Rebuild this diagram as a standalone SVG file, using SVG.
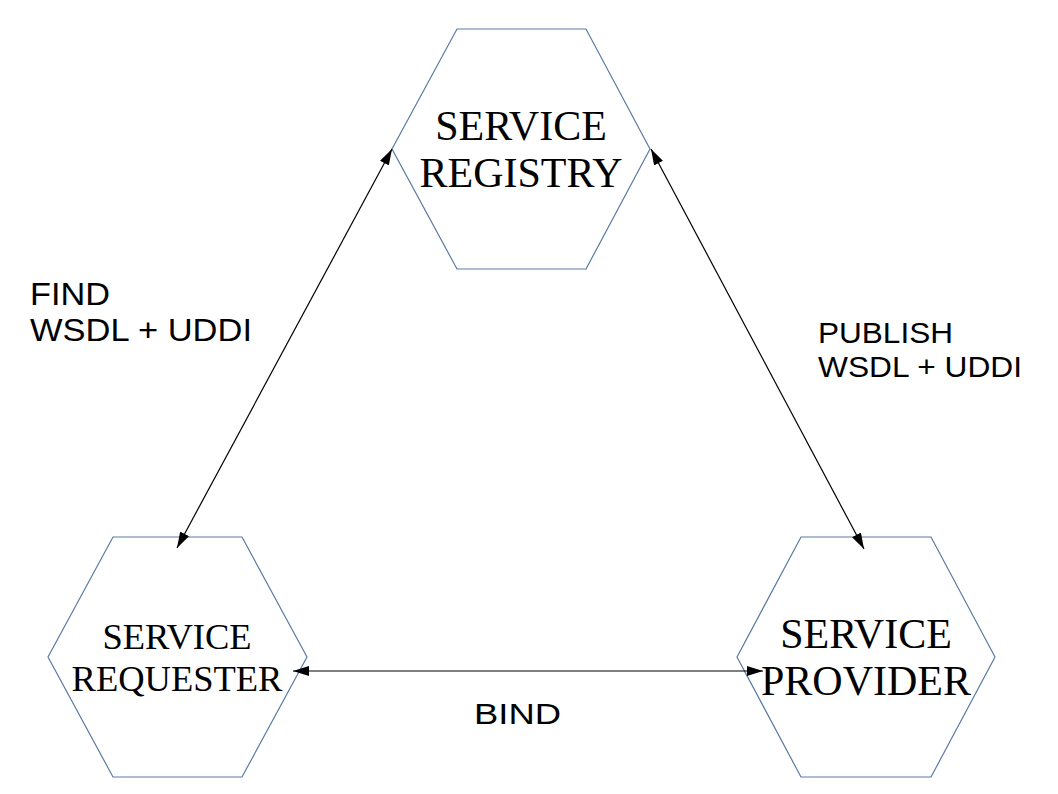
<svg xmlns="http://www.w3.org/2000/svg" width="1058" height="794" viewBox="0 0 1058 794">
<style>
.hex{fill:#fff;stroke:#5a7aa3;stroke-width:1.2}
.nt{font-family:"Liberation Serif","Times New Roman",serif;fill:#000;text-anchor:middle}
.lb{font-family:"Liberation Sans",Arial,sans-serif;fill:#000}
.cn{stroke:#000;stroke-width:1.2;fill:none;marker-start:url(#ah);marker-end:url(#ah)}
</style>
<defs>
<marker id="ah" viewBox="0 0 16 10" refX="16" refY="5" markerWidth="16" markerHeight="10" markerUnits="userSpaceOnUse" orient="auto-start-reverse">
<path d="M0,0 L16,5 L0,10 Z" fill="#000"/>
</marker>
</defs>
<rect width="1058" height="794" fill="#fff"/>
<g id="registry">
<polygon class="hex" points="457,29 586,29 650,149 586,269 457,269 392,149"/>
<text class="nt" x="521" y="140" font-size="42">SERVICE</text>
<text class="nt" x="521" y="187" font-size="42">REGISTRY</text>
</g>
<g id="requester">
<polygon class="hex" points="113,537 242,537 307,657 242,777 113,777 48,657"/>
<text class="nt" x="177" y="649" font-size="36.5">SERVICE</text>
<text class="nt" x="177" y="691" font-size="36.5">REQUESTER</text>
</g>
<g id="provider">
<polygon class="hex" points="801,537 931,537 995,657 931,777 801,777 737,657"/>
<text class="nt" x="866" y="648" font-size="42">SERVICE</text>
<text class="nt" x="866" y="695" font-size="42">PROVIDER</text>
</g>
<g id="connectors">
<line class="cn" x1="392" y1="149" x2="177" y2="548"/>
<line class="cn" x1="651" y1="149" x2="864" y2="549"/>
<line class="cn" x1="293" y1="671" x2="763" y2="671"/>
</g>
<g id="labels">
<text class="lb" x="30" y="305" font-size="30.5" textLength="80" lengthAdjust="spacingAndGlyphs">FIND</text>
<text class="lb" x="30" y="341" font-size="30.5" textLength="222" lengthAdjust="spacingAndGlyphs">WSDL + UDDI</text>
<text class="lb" x="818" y="343" font-size="29.5" textLength="135" lengthAdjust="spacingAndGlyphs">PUBLISH</text>
<text class="lb" x="818" y="377" font-size="29.5" textLength="204" lengthAdjust="spacingAndGlyphs">WSDL + UDDI</text>
<text class="lb" x="474" y="724" font-size="29.5" textLength="87" lengthAdjust="spacingAndGlyphs">BIND</text>
</g>
</svg>
